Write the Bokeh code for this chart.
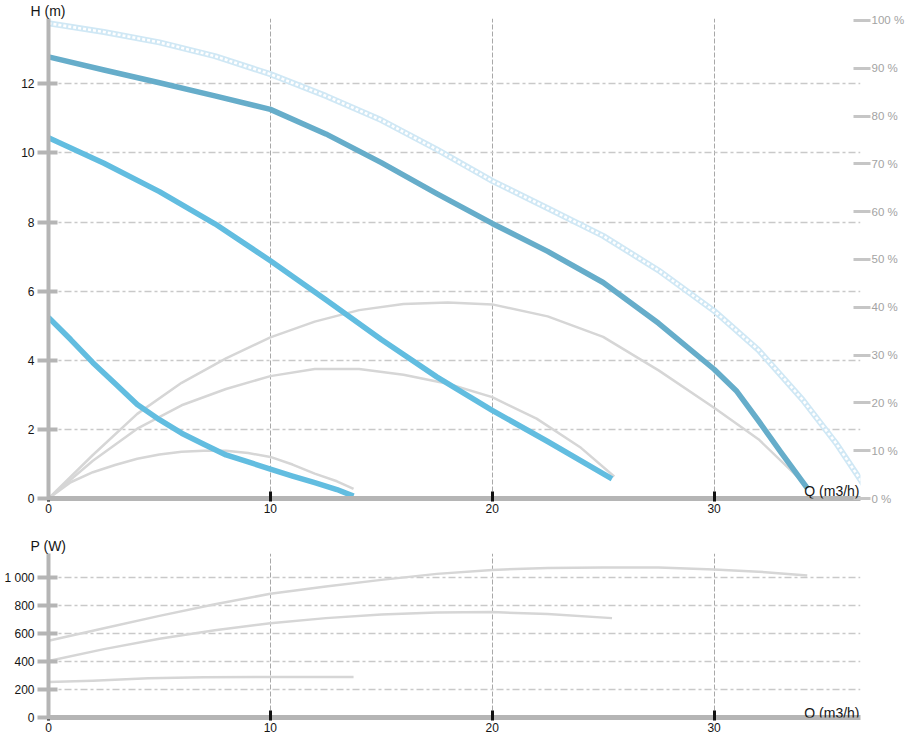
from bokeh.plotting import figure
from bokeh.models import Range1d, LinearAxis, FixedTicker, Label, Title
from bokeh.layouts import column
from bokeh.embed import file_html
from bokeh.resources import INLINE

# ---------------- data ----------------
# Head curves, H (m) vs Q (m3/h)
q_max = [0, 2.5, 5, 7.5, 10, 12.5, 15, 17.5, 20, 22.5, 25, 27.5, 30, 31, 32, 33, 34.2]
h_max = [12.78, 12.4, 12.03, 11.65, 11.26, 10.55, 9.72, 8.82, 7.96, 7.15, 6.25, 5.07, 3.74, 3.12, 2.25, 1.35, 0.3]

q_mid = [0, 2.5, 5, 7.5, 10, 12.5, 15, 17.5, 20, 22.5, 25.4]
h_mid = [10.44, 9.7, 8.88, 7.95, 6.88, 5.75, 4.6, 3.52, 2.55, 1.65, 0.57]

q_low = [0, 1, 2, 3, 4, 5, 6, 7, 8, 9, 10, 11, 12, 13, 13.75]
h_low = [5.24, 4.6, 3.93, 3.33, 2.72, 2.28, 1.89, 1.57, 1.26, 1.06, 0.85, 0.65, 0.46, 0.26, 0.07]

# Pale dotted curve
q_dot = [0, 2.5, 5, 7.5, 10, 12.5, 15, 17.5, 20, 22.5, 25, 27.5, 30, 32, 34, 35.5, 36.9]
h_dot = [13.75, 13.5, 13.2, 12.8, 12.28, 11.65, 10.95, 10.1, 9.19, 8.4, 7.6, 6.6, 5.43, 4.3, 2.85, 1.6, 0.25]

# Efficiency curves (%)
q_eff1 = [0, 2, 4, 6, 8, 10, 12, 14, 16, 18, 20, 22.5, 25, 27.5, 30, 32, 34.2]
e_eff1 = [0, 9.1, 17.7, 24.2, 29.3, 33.7, 37.0, 39.4, 40.7, 41.0, 40.6, 38.1, 33.8, 26.8, 19.0, 12.4, 2.6]

q_eff2 = [0, 2, 4, 6, 8, 10, 12, 14, 16, 18, 20, 22, 24, 25.5]
e_eff2 = [0, 7.9, 14.6, 19.5, 22.9, 25.6, 27.1, 27.1, 25.9, 24.0, 21.2, 16.7, 10.6, 4.6]

q_eff3 = [0, 1, 2, 3, 4, 5, 6, 7, 8, 9, 10, 11, 12, 13, 13.75]
e_eff3 = [0, 3.4, 5.5, 7.0, 8.3, 9.2, 9.8, 10.0, 10.0, 9.5, 8.7, 7.1, 5.2, 3.6, 2.0]

# Power curves, P (W)
q_p1 = [0, 2.5, 5, 7.5, 10, 12.5, 15, 17.5, 20, 22.5, 25, 27.5, 30, 32, 34.2]
p_p1 = [550, 640, 728, 812, 886, 938, 986, 1029, 1057, 1072, 1075, 1074, 1060, 1045, 1017]

q_p2 = [0, 2.5, 5, 7.5, 10, 12.5, 15, 17.5, 20, 22.5, 25.4]
p_p2 = [405, 490, 564, 625, 676, 712, 738, 753, 755, 742, 712]

q_p3 = [0, 2, 4.5, 7, 10, 13.75]
p_p3 = [254, 263, 281, 289, 290, 291]

# Axes ticks / labels
q_ticks = [0, 10, 20, 30]
h_ticks = [0, 2, 4, 6, 8, 10, 12]
pct_ticks = [0, 10, 20, 30, 40, 50, 60, 70, 80, 90, 100]
pct_labels = {t: "%d %%" % t for t in pct_ticks}
p_ticks = [0, 200, 400, 600, 800, 1000]
p_labels = {1000: "1 000"}

# ---------------- style ----------------
FONT = "Liberation Sans"
W = 907
X_END = 36.6
AX_GRAY = "#b5b5b5"
TEAL = "#66adca"
BLUE = "#62bde0"
GRAY = "#d6d6d6"
TXT = "#151515"


def style(p, yticks):
    p.outline_line_color = None
    p.xaxis.ticker = FixedTicker(ticks=q_ticks)
    p.yaxis.ticker = FixedTicker(ticks=yticks)
    for ax in p.xaxis:
        ax.axis_line_color = AX_GRAY
        ax.axis_line_width = 5
        ax.major_tick_line_color = "#111111"
        ax.major_tick_line_width = 3
        ax.major_tick_in = 7
        ax.major_tick_out = 3
        ax.minor_tick_line_color = None
        ax.major_label_standoff = 2
        ax.major_label_text_font = FONT
        ax.major_label_text_font_size = "12px"
        ax.major_label_text_color = TXT
    for ax in p.yaxis:
        ax.axis_line_color = AX_GRAY
        ax.axis_line_width = 4
        ax.major_tick_line_color = AX_GRAY
        ax.major_tick_line_width = 4
        ax.major_tick_in = 9
        ax.major_tick_out = 11
        ax.minor_tick_line_color = None
        ax.major_label_standoff = 3
        ax.major_label_text_font = FONT
        ax.major_label_text_font_size = "12px"
        ax.major_label_text_color = TXT
    p.xgrid.grid_line_color = "#a8a8a8"
    p.xgrid.grid_line_width = 1
    p.xgrid.grid_line_dash = "5 2"
    p.ygrid.grid_line_color = "#c9c9c9"
    p.ygrid.grid_line_width = 1.6
    p.ygrid.grid_line_dash = "7 3 3 3"


def make_title(text):
    return Title(text=text, align="left", offset=-18, standoff=0,
                 text_font=FONT, text_font_size="14px", text_font_style="normal",
                 text_color=TXT)


# ---------------- top chart ----------------
p1 = figure(width=W, height=530, x_range=Range1d(0, X_END), y_range=Range1d(0, 13.89),
            output_backend="svg", toolbar_location=None, title=make_title("H (m)"),
            min_border_left=48, min_border_right=45, min_border_top=18, min_border_bottom=32)
p1.extra_y_ranges = {"pct": Range1d(0, 100.4)}
style(p1, h_ticks)

rax = LinearAxis(y_range_name="pct", ticker=FixedTicker(ticks=pct_ticks))
rax.axis_line_color = None
rax.major_tick_line_color = "#c6c6c6"
rax.major_tick_line_width = 3
rax.major_tick_in = 7
rax.major_tick_out = 10
rax.minor_tick_line_color = None
rax.major_label_standoff = 1
rax.axis_label_standoff = 0
rax.major_label_overrides = pct_labels
rax.major_label_text_font = FONT
rax.major_label_text_font_size = "11.5px"
rax.major_label_text_color = "#a3a3a3"
p1.add_layout(rax, "right")

# pale dotted curve
p1.line(q_dot, h_dot, line_color="#d0e8f5", line_width=6, line_cap="round", line_join="round")
p1.line(q_dot, h_dot, line_color="white", line_width=2.6, line_dash="3 2")

# efficiency curves
for qq, ee in [(q_eff1, e_eff1), (q_eff2, e_eff2), (q_eff3, e_eff3)]:
    p1.line(qq, ee, y_range_name="pct", line_color=GRAY, line_width=2.5, line_join="round")

# head curves
p1.line(q_max, h_max, line_color=TEAL, line_width=5.5, line_join="round")
p1.line(q_mid, h_mid, line_color=BLUE, line_width=5.5, line_join="round")
p1.line(q_low, h_low, line_color=BLUE, line_width=5.5, line_join="round")

p1.add_layout(Label(x=X_END, y=0, text="Q (m3/h)", text_align="right", text_baseline="middle",
                    x_offset=-1, y_offset=8, text_font=FONT, text_font_size="14px",
                    text_color=TXT))

# ---------------- bottom chart ----------------
p2 = figure(width=W, height=214, x_range=Range1d(0, X_END), y_range=Range1d(0, 1175),
            output_backend="svg", toolbar_location=None, title=make_title("P (W)"),
            min_border_left=48, min_border_right=45, min_border_top=23, min_border_bottom=27)
style(p2, p_ticks)
p2.yaxis.major_label_overrides = p_labels

p2.line(q_p1, p_p1, line_color=GRAY, line_width=2.5, line_join="round")
p2.line(q_p2, p_p2, line_color=GRAY, line_width=2.5, line_join="round")
p2.line(q_p3, p_p3, line_color=GRAY, line_width=2.5, line_join="round")

p2.add_layout(Label(x=X_END, y=0, text="Q (m3/h)", text_align="right", text_baseline="middle",
                    x_offset=-1, y_offset=5, text_font=FONT, text_font_size="14px",
                    text_color=TXT))

layout = column(p1, p2)
open("out.html", "w").write(file_html(layout, INLINE))
